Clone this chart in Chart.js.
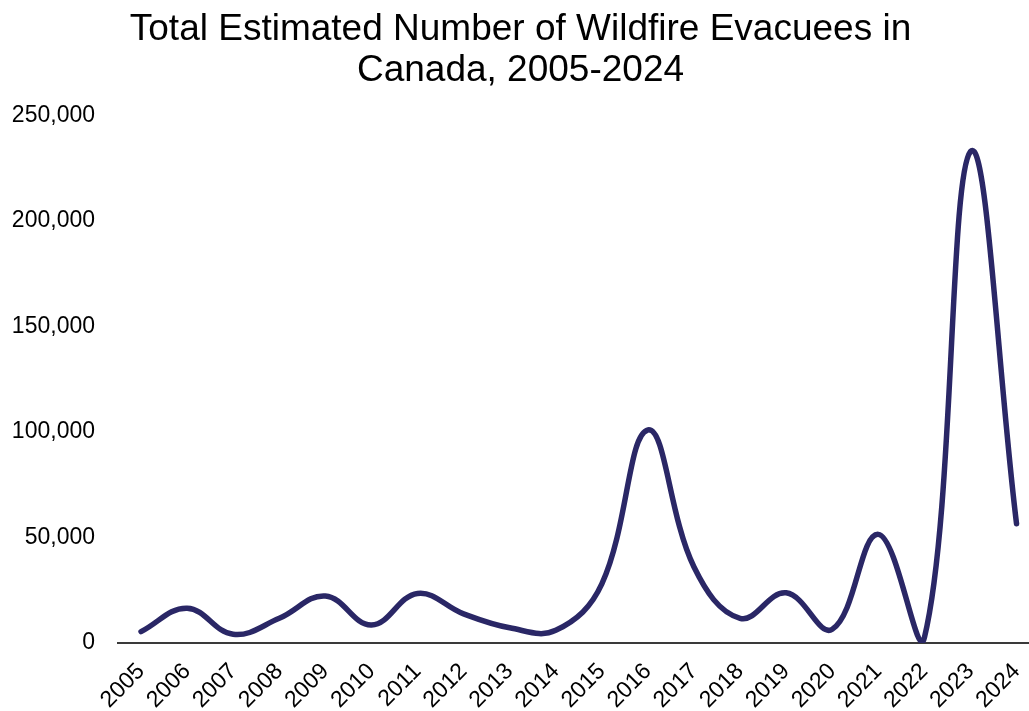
<!DOCTYPE html>
<html>
<head>
<meta charset="utf-8">
<script src="https://cdn.jsdelivr.net/npm/chart.js@4.4.1/dist/chart.umd.min.js"></script>
<style>
  html, body { margin: 0; padding: 0; background: #ffffff; overflow: hidden; }
  #wrap { width: 1029px; height: 711px; }
</style>
</head>
<body>
<div id="wrap"><canvas id="c" width="1029" height="711"></canvas></div>
<script>
// ---- Data ----
const years = [2005, 2006, 2007, 2008, 2009, 2010, 2011, 2012, 2013, 2014,
               2015, 2016, 2017, 2018, 2019, 2020, 2021, 2022, 2023, 2024];
const evacuees = [5400, 16500, 4100, 11700, 22300, 8500, 23500, 13800, 7200, 6000,
                  28000, 101000, 36000, 11700, 23800, 6500, 51500, 2500, 233000, 56500];
const yTicks = [0, 50000, 100000, 150000, 200000, 250000];
const titleLines = ['Total Estimated Number of Wildfire Evacuees in', 'Canada, 2005-2024'];

const points = years.map((y, i) => ({ x: y, y: evacuees[i] }));
const FONT = "'Liberation Sans', Arial, sans-serif";

new Chart(document.getElementById('c'), {
  type: 'line',
  data: {
    datasets: [{
      data: points,
      borderColor: '#2a2766',
      borderWidth: 5.5,
      borderCapStyle: 'round',
      borderJoinStyle: 'round',
      pointRadius: 0,
      pointHoverRadius: 0,
      tension: 0.4,
      capBezierPoints: false,
      clip: 0,
      fill: false
    }]
  },
  options: {
    responsive: false,
    animation: false,
    layout: { padding: { left: 12, right: 0, top: 0, bottom: 0 } },
    plugins: {
      legend: { display: false },
      tooltip: { enabled: false },
      title: {
        display: true,
        text: titleLines,
        color: '#000000',
        font: { family: FONT, size: 37, weight: 'normal', lineHeight: 1.09 },
        padding: { top: 10, bottom: 25 }
      }
    },
    scales: {
      x: {
        type: 'linear',
        min: years[0] - 0.5,
        max: years[years.length - 1] + 0.27,
        grid: { display: false, drawTicks: false },
        border: { display: true, color: '#3a3a3a', width: 2 },
        ticks: {
          stepSize: 1,
          includeBounds: false,
          autoSkip: false,
          minRotation: 45,
          maxRotation: 45,
          padding: 15,
          color: '#000000',
          font: { family: FONT, size: 23 },
          callback: (v) => String(v)
        },
        afterFit: (s) => { s.height = 68; s.paddingLeft = 0; s.paddingRight = 0; }
      },
      y: {
        type: 'linear',
        min: yTicks[0],
        max: yTicks[yTicks.length - 1],
        grid: { display: false, drawTicks: false },
        border: { display: false },
        afterBuildTicks: (s) => { s.ticks = yTicks.map(v => ({ value: v })); },
        ticks: {
          padding: 23,
          color: '#000000',
          font: { family: FONT, size: 23 },
          callback: (v) => Number(v).toLocaleString('en-US')
        },
        afterFit: (s) => { s.width = 106; s.paddingTop = 0; s.paddingBottom = 0; }
      }
    }
  }
});
</script>
</body>
</html>
